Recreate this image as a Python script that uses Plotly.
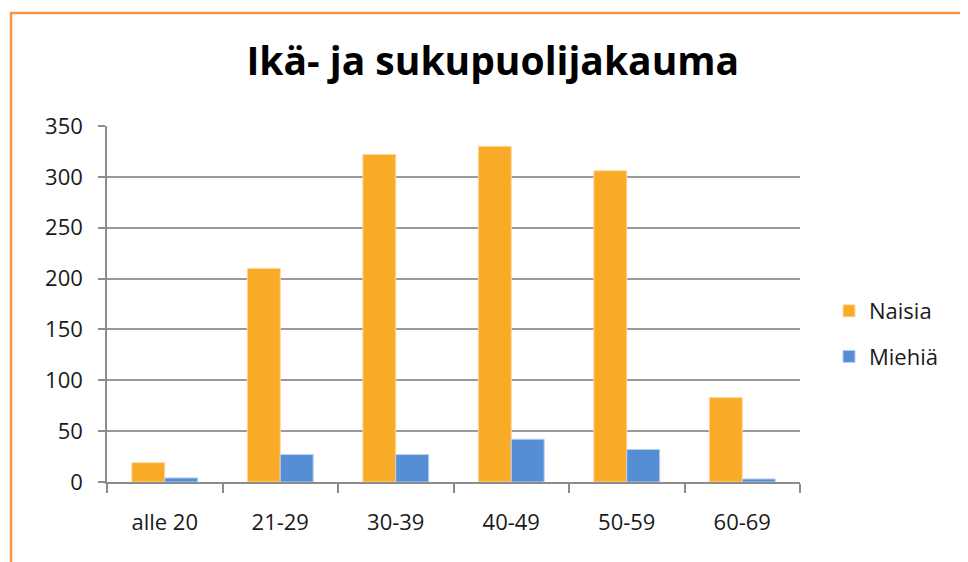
import plotly.graph_objects as go

categories = ["alle 20", "21-29", "30-39", "40-49", "50-59", "60-69"]
naisia = [19, 210, 322, 330, 306, 83]
miehia = [4, 27, 27, 42, 32, 3]
y_ticks = [0, 50, 100, 150, 200, 250, 300, 350]

FONT = "Open Sans"
ORANGE = "#F9AA26"
BLUE = "#558ED5"

W, H = 960, 554
L, R, T, B = 99, 168, 118, 80
PW, PH = W - L - R, H - T - B

fig = go.Figure()
fig.add_trace(go.Bar(name="Naisia", x=categories, y=naisia, marker_color=ORANGE,
                     marker_line=dict(color="#FCD9A0", width=1), legendgroup="a"))
fig.add_trace(go.Bar(name="Miehiä", x=categories, y=miehia, marker_color=BLUE,
                     marker_line=dict(color="#B8CFEE", width=1), legendgroup="b"))

fig.update_layout(
    width=W, height=H,
    margin=dict(l=L, r=R, t=T, b=B),
    paper_bgcolor="white", plot_bgcolor="white",
    barmode="group", bargap=0.43, bargroupgap=0,
    font=dict(family=FONT, size=22, color="#1A1A1A"),
    title=dict(text="<b>Ikä- ja sukupuolijakauma</b>", x=0.505, xanchor="center",
               y=1 - 53 / H, yanchor="middle",
               font=dict(family=FONT, size=39, color="black")),
    legend=dict(x=(821 - L) / PW, xanchor="left", y=(PH + T - 282) / PH, yanchor="top",
                font=dict(family=FONT, size=22, color="#1A1A1A"),
                traceorder="grouped", tracegroupgap=14, bgcolor="rgba(0,0,0,0)"),
    showlegend=True,
)
fig.update_xaxes(showline=True, linecolor="#8C8C8C", linewidth=1.5,
                 ticks="outside", ticklen=9, tickcolor="#8C8C8C", tickwidth=1.5,
                 tickson="boundaries", ticklabelstandoff=20,
                 showgrid=False, tickfont=dict(size=22, color="#1A1A1A"))
fig.update_yaxes(range=[0, 350], tickvals=y_ticks, showline=True, linecolor="#8C8C8C",
                 linewidth=1.5, ticks="outside", ticklen=7, tickcolor="#8C8C8C",
                 tickwidth=1.5, showgrid=True, gridcolor="#9A9A9A", gridwidth=1.5,
                 zeroline=False, ticklabelstandoff=11,
                 tickfont=dict(size=22, color="#1A1A1A"))

# chart-area border (Excel style)
fig.add_shape(type="rect", xref="paper", yref="paper",
              x0=(3 - L) / PW, x1=(959 - L) / PW,
              y0=(PH + T - 570) / PH, y1=(PH + T - 5) / PH,
              line=dict(color="#F79646", width=2.5), fillcolor="rgba(0,0,0,0)",
              layer="below")

fig.write_html("out.html")
